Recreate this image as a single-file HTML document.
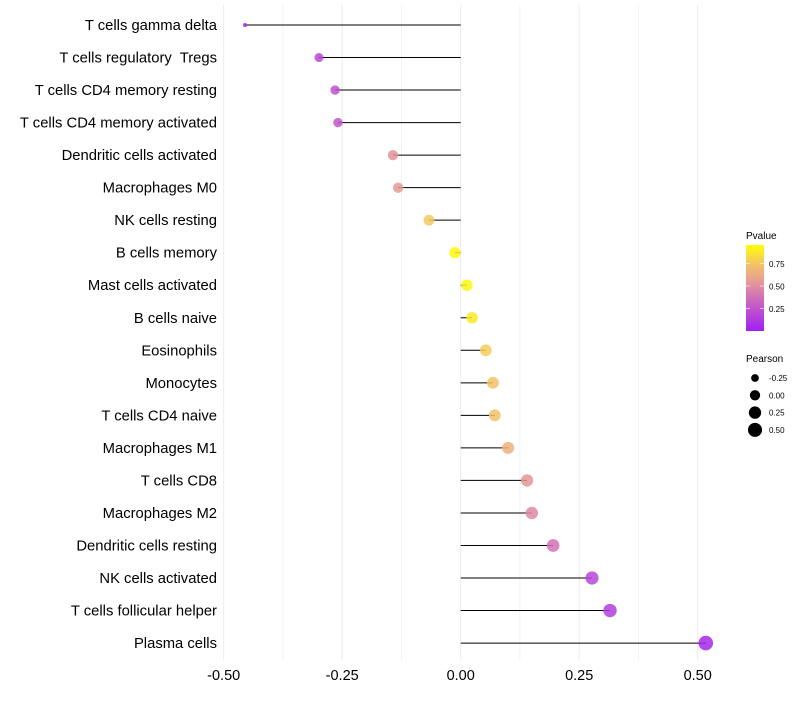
<!DOCTYPE html>
<html><head><meta charset="utf-8"><style>
body{margin:0;background:#fff;font-family:"Liberation Sans",sans-serif}
</style></head><body>
<svg id="c" width="800" height="700" xmlns="http://www.w3.org/2000/svg"></svg>
<script>
const categories=["T cells gamma delta","T cells regulatory  Tregs","T cells CD4 memory resting","T cells CD4 memory activated","Dendritic cells activated","Macrophages M0","NK cells resting","B cells memory","Mast cells activated","B cells naive","Eosinophils","Monocytes","T cells CD4 naive","Macrophages M1","T cells CD8","Macrophages M2","Dendritic cells resting","NK cells activated","T cells follicular helper","Plasma cells"];
const pearson=[-0.455,-0.299,-0.265,-0.259,-0.143,-0.132,-0.067,-0.012,0.013,0.024,0.053,0.068,0.072,0.100,0.140,0.150,0.195,0.277,0.315,0.517];
const pvalue=[0.03,0.2,0.24,0.27,0.55,0.58,0.8,0.97,0.96,0.92,0.82,0.77,0.76,0.68,0.56,0.5,0.4,0.2,0.15,0.04];
const xTicks=[-0.5,-0.25,0,0.25,0.5];
const xTickLabels=["-0.50","-0.25","0.00","0.25","0.50"];
const pTicks=[0.25,0.5,0.75];
const pTickLabels=["0.25","0.50","0.75"];
const sizeKeys=[-0.25,0,0.25,0.5];
const sizeKeyLabels=["-0.25","0.00","0.25","0.50"];

const NS="http://www.w3.org/2000/svg";
const svg=document.getElementById('c');
function mk(t,a,p){const e=document.createElementNS(NS,t);for(const k in a)e.setAttribute(k,a[k]);(p||svg).appendChild(e);return e;}
const X=v=>460.7+v*474;
const Y=i=>25+i*32.53;
const R=v=>v<-0.4?2:Math.sqrt(Math.max(4,32.4+40.5*v));
const stops=[[0,[160,32,240]],[0.35,[204,102,192]],[0.6,[232,160,144]],[0.8,[245,200,96]],[1,[255,255,0]]];
function col(p){for(let i=1;i<stops.length;i++){if(p<=stops[i][0]){const a=stops[i-1],b=stops[i],t=(p-a[0])/(b[0]-a[0]);const c=a[1].map((v,j)=>Math.round(v+(b[1][j]-v)*t));return `rgb(${c})`;}}return 'rgb(255,255,0)';}

for(let v=-0.5;v<=0.5001;v+=0.125){const g=mk('line',{x1:X(v),x2:X(v),y1:5,y2:660,stroke:'#ebebeb','stroke-width':Math.abs((v*8)%2)<0.01?1:0.6});
}
xTicks.forEach((v,i)=>{const t=mk('text',{x:X(v),y:680,'text-anchor':'middle','font-size':14.5,fill:'#000'});t.textContent=xTickLabels[i];
});
categories.forEach((c,i)=>{
 const t=mk('text',{x:217,y:Y(i)+5,'text-anchor':'end','font-size':14.8,fill:'#000','xml:space':'preserve',style:'white-space:pre'});t.textContent=c;
 
 const l=mk('line',{x1:X(0),x2:X(pearson[i]),y1:Y(i),y2:Y(i),stroke:'#000','stroke-width':1});
 
 const d=mk('circle',{cx:X(pearson[i]),cy:Y(i),r:R(pearson[i]),fill:col(pvalue[i]),'fill-opacity':0.85});
 
});
const defs=mk('defs',{});const lg=mk('linearGradient',{id:'pg',x1:0,y1:1,x2:0,y2:0},defs);
stops.forEach(s=>mk('stop',{offset:s[0],'stop-color':`rgb(${s[1]})`},lg));
const lt=mk('text',{x:746,y:239,'font-size':10});lt.textContent='Pvalue';

const bar=mk('rect',{x:746,y:245,width:18,height:86,fill:'url(#pg)'});

const PY=p=>331-p*90;
pTicks.forEach((p,i)=>{mk('line',{x1:746,x2:750,y1:PY(p),y2:PY(p),stroke:'#fff','stroke-opacity':0.6});mk('line',{x1:760,x2:764,y1:PY(p),y2:PY(p),stroke:'#fff','stroke-opacity':0.6});
 const t=mk('text',{x:769,y:PY(p)+3.5,'font-size':8});t.textContent=pTickLabels[i];
 });
const st=mk('text',{x:746,y:362,'font-size':10});st.textContent='Pearson';

sizeKeys.forEach((v,i)=>{const y=378+i*17.3;
 const c=mk('circle',{cx:755,cy:y,r:Math.sqrt(14.9+53.5*(v+0.25)*0.86+0.1),fill:'#000'});
 const t=mk('text',{x:769,y:y+3,'font-size':8});t.textContent=sizeKeyLabels[i];
 });
</script>
</body></html>
